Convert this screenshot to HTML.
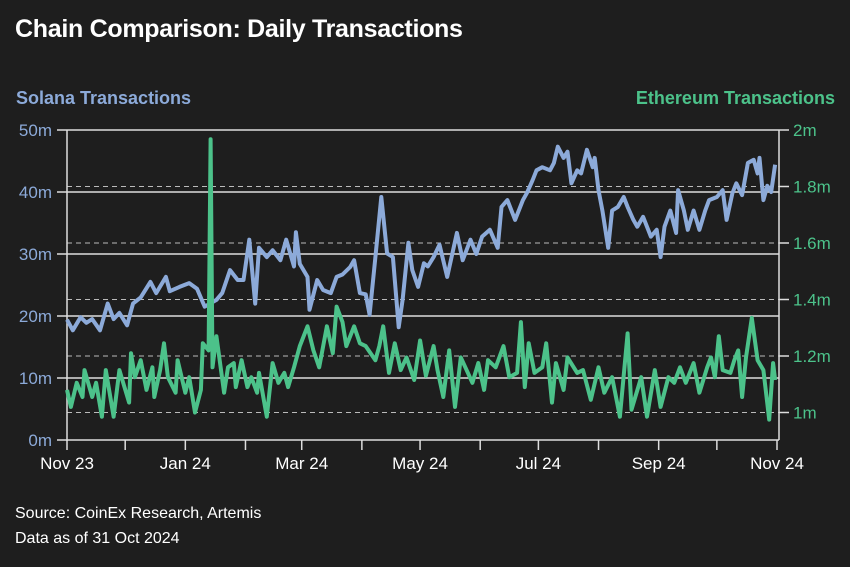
<!DOCTYPE html>
<html><head><meta charset="utf-8"><style>
html,body{margin:0;padding:0;background:#1e1e1e;}
body{width:850px;height:567px;overflow:hidden;position:relative;font-family:"Liberation Sans",sans-serif;}
.t{position:absolute;white-space:nowrap;}
</style></head><body>
<div class="t" style="left:15px;top:15px;font-size:25px;font-weight:bold;color:#fff;letter-spacing:-0.3px;">Chain Comparison: Daily Transactions</div>
<div class="t" style="left:16px;top:88px;font-size:18px;font-weight:bold;color:#8caad9;">Solana Transactions</div>
<div class="t" style="right:15px;top:88px;font-size:18px;font-weight:bold;color:#4cc28a;">Ethereum Transactions</div>
<div class="t" style="left:15px;top:505px;font-size:16px;color:#fff;">Source: CoinEx Research, Artemis</div>
<div class="t" style="left:15px;top:530px;font-size:16px;color:#fff;">Data as of 31 Oct 2024</div>
<svg id="chart" width="850" height="567" style="position:absolute;left:0;top:0;" xmlns="http://www.w3.org/2000/svg"></svg>
<script>
const solDays=[0,3,7,10,13,17,21,24,27,31,34,38,43,46,51,53,58,63,67,71,77,80,84,88,91,94,97,99,103,106,110,113,117,118,120,124,125,129,132,136,139,142,146,148,151,154,156,159,162,165,168,171,173,176,178,181,184,186,189,192,196,201,204,208,211,214,218,222,224,227,231,235,237,240,242,245,249,251,253,256,258,260,263,265,268,271,272,274,276,279,281,284,287,289,292,294,297,301,304,306,308,311,314,315,318,320,323,326,329,331,335,338,340,343,345,348,351,354,356,357,359,361,363,365];
const solVals=[19.4,17.7,19.8,18.9,19.5,17.7,22,19.5,20.5,18.5,22,23,25.5,23.7,26.3,24,24.7,25.3,24.4,21.5,22.6,23.7,27.4,25.8,25.8,32.3,22,31,29.5,30.6,29,32.3,28,33.5,28.4,26.3,21,25.8,24.2,23.7,26.3,26.7,27.9,29,23.7,23.5,20.2,29.5,39.2,30.1,29.5,18.2,22.6,31.8,27.4,24.7,28.5,28,29.5,31.5,26.3,33.4,29,32.3,30,32.8,33.9,31,37.6,38.7,35.5,38.7,39.8,41.9,43.5,44,43.5,44.7,47.3,45.5,46.5,41.4,43.5,43,46.8,44,45.5,40.3,37,31,37,37.6,39.2,37.6,35.5,34.4,36,32.8,33.9,29.5,34.4,37,33.4,40.3,37,33.9,37,33.9,37,38.7,39.2,40.3,35.5,39.8,41.4,39.5,44.7,45.2,43,45.5,38.7,41,40,44.4];
const ethDays=[0,2,5,8,9,13,15,18,20,24,27,32,33,35,38,41,44,45,48,50,52,56,57,61,63,66,69,70,73,74,75,77,81,83,86,87,90,93,95,98,99,103,106,109,112,114,117,120,124,127,130,134,137,139,142,144,148,151,154,159,161,163,166,169,172,175,179,182,185,189,191,194,197,200,203,206,209,212,215,217,221,225,228,232,234,236,238,241,245,247,250,252,256,258,263,266,270,274,277,281,285,289,291,296,299,303,306,310,313,316,319,323,326,330,332,334,336,338,342,344,346,348,350,353,356,359,362,364,365];
const ethVals=[1080,1020,1105,1055,1150,1055,1105,985,1150,985,1150,1035,1210,1125,1185,1080,1160,1055,1150,1245,1125,1070,1185,1070,1125,1000,1080,1245,1220,1967,1160,1270,1070,1160,1175,1090,1185,1090,1125,1070,1140,985,1175,1105,1140,1090,1160,1235,1305,1220,1160,1305,1210,1375,1320,1235,1305,1245,1235,1185,1235,1305,1140,1245,1150,1195,1115,1255,1130,1235,1150,1055,1220,1020,1195,1150,1105,1175,1080,1185,1160,1235,1125,1140,1320,1090,1245,1140,1160,1245,1035,1175,1080,1195,1140,1150,1045,1160,1070,1125,985,1280,1010,1125,985,1150,1020,1125,1105,1160,1105,1175,1070,1160,1195,1125,1270,1150,1140,1185,1220,1055,1195,1335,1185,1150,975,1175,1115];
const leftTicks=[0,10,20,30,40,50];
const leftTickLabels=["0m","10m","20m","30m","40m","50m"];
const rightTicks=[1000,1200,1400,1600,1800,2000];
const rightTickLabels=["1m","1.2m","1.4m","1.6m","1.8m","2m"];
const monthDays=[0,30,61,92,121,152,182,213,243,274,305,335,366];
const monthLabels=["Nov 23","","Jan 24","","Mar 24","","May 24","","Jul 24","","Sep 24","","Nov 24"];

const svg=document.getElementById('chart');
const NS='http://www.w3.org/2000/svg';
const X0=67,X1=777,YB=440,YT=130;
const xS=d=>X0+d*(X1-X0)/366;
const yL=v=>YB-v*(YB-YT)/50;
const yR=v=>412.5-(v-1000)*(412.5-YT)/1000;
function mk(tag,attrs){const e=document.createElementNS(NS,tag);for(const k in attrs)e.setAttribute(k,attrs[k]);svg.appendChild(e);return e;}
rightTicks.forEach((v,i)=>{const y=yR(v);
 if(v<2000){const g=mk('line',{x1:X0,x2:779,y1:y,y2:y,stroke:'#bbb','stroke-width':1,'stroke-dasharray':'5,4'});
 
 }
 const t=mk('line',{x1:779,x2:789,y1:y,y2:y,stroke:'#ddd','stroke-width':1.5});
 
 
 const tx=mk('text',{x:793,y:y+6,fill:'#4cc28a','font-size':17,'font-family':'Liberation Sans, sans-serif'});
 tx.textContent=rightTickLabels[i];
 
 
});
leftTicks.forEach((v,i)=>{const y=yL(v);
 const g=mk('line',{x1:X0,x2:779,y1:y,y2:y,stroke:'#ddd','stroke-width':1.5});
 
 
 const t=mk('line',{x1:57,x2:X0,y1:y,y2:y,stroke:'#ddd','stroke-width':1.5});
 
 
 const tx=mk('text',{x:52,y:y+6,fill:'#8caad9','font-size':17,'text-anchor':'end','font-family':'Liberation Sans, sans-serif'});
 tx.textContent=leftTickLabels[i];
 
 
});
const la=mk('line',{x1:X0,x2:X0,y1:YT,y2:YB+1,stroke:'#ddd','stroke-width':1.5});


const ra=mk('line',{x1:779,x2:779,y1:YT,y2:YB,stroke:'#ddd','stroke-width':1.5});


monthDays.forEach((d,i)=>{const x=xS(d);
 const t=mk('line',{x1:x,x2:x,y1:YB,y2:YB+10,stroke:'#ddd','stroke-width':1.5});
 
 
 if(monthLabels[i]){const tx=mk('text',{x:x,y:469,fill:'#fff','font-size':17,'text-anchor':'middle','font-family':'Liberation Sans, sans-serif'});
 tx.textContent=monthLabels[i];
 
 }
});
function path(days,vals,ys){return days.map((d,i)=>(i?'L':'M')+xS(d).toFixed(1)+','+ys(vals[i]).toFixed(1)).join('');}
const sol=mk('path',{d:path(solDays,solVals,yL),fill:'none',stroke:'#8caad9','stroke-width':4,'stroke-linejoin':'round'});


const eth=mk('path',{d:path(ethDays,ethVals,yR),fill:'none',stroke:'#4cc28a','stroke-width':4,'stroke-linejoin':'round'});


</script>
</body></html>
